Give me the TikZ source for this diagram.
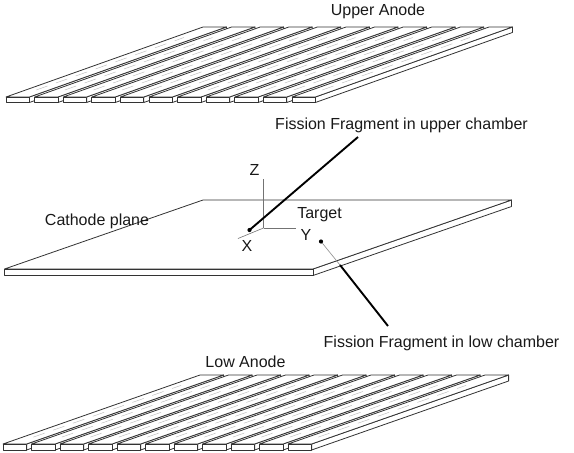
\documentclass[tikz,border=0pt]{standalone}
\usepackage{fontspec}
\setmainfont{Liberation Sans}
\tikzset{
  x=1pt,y=-1pt,
  edge/.style={draw=black!80,line width=0.8pt,line join=round},
  axis/.style={draw=black!55,line width=0.6pt},
  track/.style={draw=black,line width=1.9pt},
  thintrack/.style={draw=black!45,line width=0.6pt},
  dotmark/.style={circle,fill=black,inner sep=0pt,minimum size=4.2pt},
  lab/.style={font=\fontsize{16}{18}\selectfont,text=black!90,inner sep=0pt,anchor=center},
  faint/.style={draw=black!28,line width=0.4pt,dash pattern=on 12pt off 9pt},
}
% #1 front-left x, #2 front top y, #3 front bottom y, #4 run in x, #5 back y, #6 width
\newcommand{\stripbox}[6]{%
  \path[edge,fill=white] (#1+#6,#2) -- (#1+#6+#4,#5) -- (#1+#6+#4,#5+#3-#2) -- (#1+#6,#3) -- cycle;
  \path[edge,fill=white] (#1,#2) -- (#1+#4,#5) -- (#1+#4+#6,#5) -- (#1+#6,#2) -- cycle;
  \path[edge,fill=white] (#1,#2) rectangle (#1+#6,#3);
}
\newcommand{\stripmid}[6]{%
  \path[faint] (#1+0.45*#6+0.1*#4,#2+0.1*#5-0.1*#2) -- (#1+0.45*#6+0.85*#4,#2+0.85*#5-0.85*#2);
}
\begin{document}
\begin{tikzpicture}
\useasboundingbox (0,0) rectangle (574,453);
% upper anode
\foreach \i in {0,...,10} {\pgfmathsetmacro{\xa}{6+28.6*\i}\stripbox{\xa}{97}{102.5}{197}{27}{23.4}\stripmid{\xa}{97}{102.5}{197}{27}{23.4}}
% low anode
\foreach \i in {0,...,10} {\pgfmathsetmacro{\xa}{3+28.5*\i}\stripbox{\xa}{444}{450}{197}{375}{23.6}\stripmid{\xa}{444}{450}{197}{375}{23.6}}
% cathode
\stripbox{4.5}{269}{275.5}{198.5}{200}{308.5}
% axes
\coordinate (o) at (263.5,228);
\coordinate (zt) at (263.5,179);
\coordinate (yt) at (296,228);
\coordinate (xt) at (238,238.5);
\draw[axis] (o) -- (zt);
\draw[axis] (o) -- (yt);
\draw[axis] (o) -- (xt);
% tracks
\node[dotmark] (up) at (249.5,230) {};
\node[dotmark] (lo) at (321,241.5) {};
\coordinate (uend) at (358,137);
\coordinate (cross) at (340,265);
\coordinate (lend) at (388,326);
\draw[track] (up.center) -- (uend);
\draw[thintrack] (lo) -- (cross);
\draw[track] (cross) -- (lend);
% labels
\node[lab] (ua) at (378,11) {Upper Anode};
\node[lab] (fu) at (401.5,125.5) {Fission Fragment in upper chamber};
\node[lab] (z) at (254.5,170) {Z};
\node[lab] (t) at (319.5,215) {Target};
\node[lab] (c) at (97,221.5) {Cathode plane};
\node[lab] (y) at (306,234.5) {Y};
\node[lab] (x) at (247,245.5) {X};
\node[lab] (fl) at (441.5,343.5) {Fission Fragment in low chamber};
\node[lab] (la) at (245.5,362) {Low Anode};
\end{tikzpicture}
\end{document}
